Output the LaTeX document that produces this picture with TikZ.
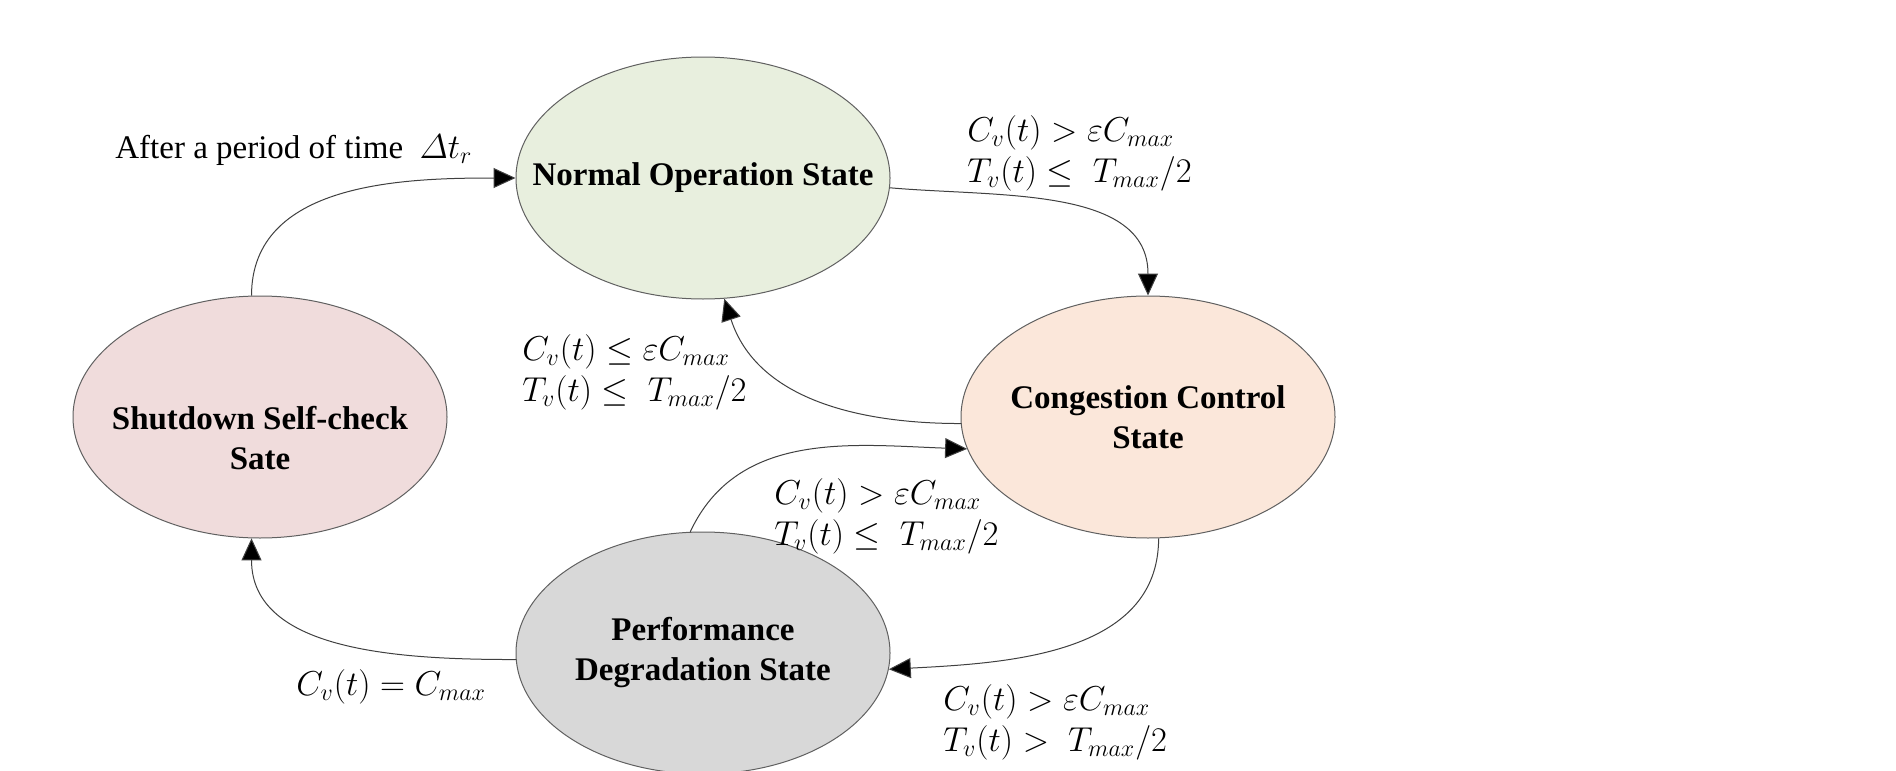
\documentclass[tikz,border=0pt]{standalone}
\usepackage{amsmath}
\usepackage{fontspec}
\setmainfont{Liberation Serif}
\usetikzlibrary{shapes.geometric,arrows.meta}
\definecolor{cgreen}{HTML}{E8EFDE}
\definecolor{corange}{HTML}{FBE7DA}
\definecolor{cpink}{HTML}{F0DCDC}
\definecolor{cgray}{HTML}{D8D8D8}
\definecolor{cline}{HTML}{404040}
\definecolor{cborder}{HTML}{606060}
\begin{document}
\begin{tikzpicture}[x=0.5pt,y=0.5pt,
  st/.style={ellipse, draw=cborder, line width=0.5pt, minimum width=187pt, minimum height=121pt,
    inner sep=0pt},
  sttext/.style={inner sep=0pt, align=center, font=\bfseries\fontsize{16.5}{20}\selectfont},
  arr/.style={draw=cline, line width=0.5pt, -{Triangle[length=11pt,width=10pt,fill=black]}},
  lab/.style={inner sep=0pt, align=left, anchor=west, font=\fontsize{17}{20.5}\selectfont},
  txt/.style={inner sep=0pt, anchor=west, font=\fontsize{16.5}{20}\selectfont}]
\useasboundingbox (0,0) rectangle (1896,-771);
\fill[white] (0,0) rectangle (1896,-771);
% states
\node[st, fill=cgreen, label={[sttext]center:Normal Operation State}] (no) at (703,-178) {};
\node[st, fill=corange, label={[sttext]center:Congestion Control\\State}] (co) at (1148,-417) {};
\node[st, fill=cpink, label={[sttext,yshift=-10.5pt]center:Shutdown Self-check\\Sate}] (sd) at (260,-417) {};
\node[st, fill=cgray, label={[sttext]center:Performance\\Degradation State}] (pd) at (703,-653) {};
% transitions
\draw[arr] (sd.94) to[out=90,in=180] (no.180);
\draw[arr] (no.-3) to[out=-5,in=90] (co.north);
\draw[arr] (co.182) to[out=180,in=-72] (no.-80);
\draw[arr] (pd.96) to[out=65,in=178] (co.190);
\draw[arr] (co.-85) to[out=-90,in=3] (pd.-5);
\draw[arr] (pd.182) to[out=180,in=-90] (sd.-94);
% labels
\node[txt] (l1) at (115,-150) {After a period of time\ \ $\varDelta t_r$};
\node[lab] (l2) at (967,-153) {$C_v(t) > \varepsilon C_{max}$\\$T_v(t) \leq\; T_{max}/2$};
\node[lab] (l3) at (522,-372) {$C_v(t) \leq \varepsilon C_{max}$\\$T_v(t) \leq\; T_{max}/2$};
\node[lab] (l4) at (774,-516) {$C_v(t) > \varepsilon C_{max}$\\$T_v(t) \leq\; T_{max}/2$};
\node[lab] (l5) at (943,-722) {$C_v(t) > \varepsilon C_{max}$\\$T_v(t) >\; T_{max}/2$};
\node[lab] (l6) at (296,-687) {$C_v(t) = C_{max}$};
\end{tikzpicture}
\end{document}
